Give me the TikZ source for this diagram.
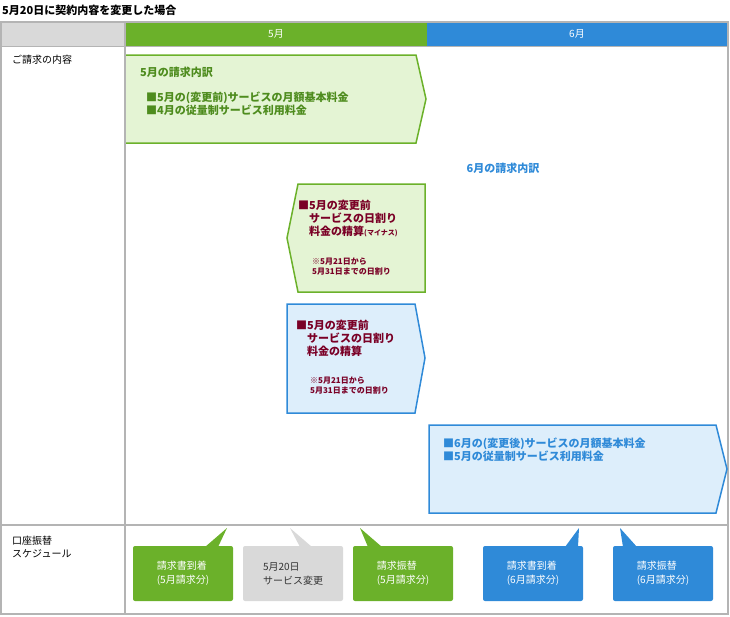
\documentclass[tikz,border=0pt]{standalone}
\usepackage{fontspec}
\setmainfont{Noto Sans CJK JP}
\definecolor{gr}{HTML}{6BB12A}
\definecolor{grl}{HTML}{E4F4D4}
\definecolor{grt}{HTML}{4E8C1E}
\definecolor{bl}{HTML}{2F8AD8}
\definecolor{bll}{HTML}{DDEEFB}
\definecolor{dr}{HTML}{7A0026}
\definecolor{lg}{HTML}{B4B4B4}
\definecolor{cg}{HTML}{D9D9D9}
\begin{document}
\begin{tikzpicture}[x=1pt,y=-1pt,
  t/.style={font=\fontsize{11}{13}\selectfont\bfseries,align=left,anchor=north west,inner sep=0},
  s/.style={font=\fontsize{8}{10}\selectfont\bfseries,align=left,anchor=north west,inner sep=0,text=dr},
  cb/.style={rounded corners=2pt,text=white,font=\fontsize{10}{14}\selectfont,align=left,minimum width=100,minimum height=55,inner sep=0}]
\useasboundingbox (0,0) rectangle (730,616);
\node[anchor=west,inner sep=0,font=\fontsize{11}{13}\selectfont\bfseries] (title) at (2,10) {5月20日に契約内容を変更した場合};
% header
\fill[cg] (1,22) rectangle (125,46);
\fill[gr] (125,22) rectangle (427,46);
\fill[bl] (427,22) rectangle (728,46);
\node[text=white,font=\fontsize{10}{12}\selectfont] (m5) at (276,34) {5月};
\node[text=white,font=\fontsize{10}{12}\selectfont] (m6) at (577,34) {6月};
\draw[lg,line width=2] (1,22) rectangle (728,614);
\draw[lg,line width=2] (125,22) -- (125,614);
\draw[lg,line width=2] (1,525) -- (728,525);
\draw[lg,line width=1] (1,46) -- (728,46);
\node[t,font=\fontsize{10}{12}\selectfont] (r1) at (12,55) {ご請求の内容};
\node[t,font=\fontsize{10}{13}\selectfont] (r2) at (12,536) {口座振替\\スケジュール};
% shapes
\draw[gr,line width=1.5,fill=grl] (126,55) -- (416,55) -- (426,99) -- (416,143) -- (126,143);
\node[t,text=grt] (a1) at (140,67) {5月の請求内訳};
\node[t,text=grt] (a2) at (146,92) {■5月の(変更前)サービスの月額基本料金\\■4月の従量制サービス利用料金};
\node[t,text=bl,anchor=center] (b0) at (503,168) {6月の請求内訳};
\draw[gr,line width=1.5,fill=grl] (298,184) -- (425,184) -- (425,292) -- (298,292) -- (287,238) -- cycle;
\node[t,text=dr] (b1) at (298,200) {■5月の変更前\\\hspace{1em}サービスの日割り\\\hspace{1em}料金の精算{\fontsize{7}{9}\selectfont(マイナス)}};
\node[s] (b2) at (312,258) {※5月21日から\\5月31日までの日割り};
\draw[bl,line width=1.5,fill=bll] (287,304) -- (415,304) -- (425,358) -- (415,413) -- (287,413) -- cycle;
\node[t,text=dr] (c1) at (296,320) {■5月の変更前\\\hspace{1em}サービスの日割り\\\hspace{1em}料金の精算};
\node[s] (c2) at (310,377) {※5月21日から\\5月31日までの日割り};
\draw[bl,line width=1.5,fill=bll] (429,425) -- (716,425) -- (727,469) -- (716,513) -- (429,513) -- cycle;
\node[t,text=bl] (d1) at (443,438) {■6月の(変更後)サービスの月額基本料金\\■5月の従量制サービス利用料金};
% callouts
\fill[gr] (205,547) -- (227,528) -- (218,547) -- cycle;
\node[cb,fill=gr] (k1) at (183,573.5) {請求書到着\\(5月請求分)};
\fill[cg] (300,547) -- (290,528) -- (312,547) -- cycle;
\node[cb,fill=cg,text=black!80] (k2) at (293,573.5) {5月20日\\サービス変更};
\fill[gr] (368,547) -- (360,528) -- (382,547) -- cycle;
\node[cb,fill=gr] (k3) at (403,573.5) {請求振替\\(5月請求分)};
\fill[bl] (565,547) -- (579,528) -- (578,547) -- cycle;
\node[cb,fill=bl] (k4) at (533,573.5) {請求書到着\\(6月請求分)};
\fill[bl] (623,547) -- (620,528) -- (637,547) -- cycle;
\node[cb,fill=bl] (k5) at (663,573.5) {請求振替\\(6月請求分)};
\end{tikzpicture}
\end{document}
